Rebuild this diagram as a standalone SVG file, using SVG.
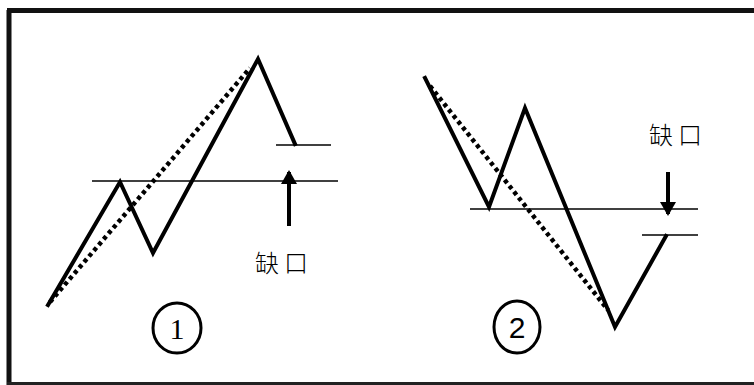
<svg xmlns="http://www.w3.org/2000/svg" width="754" height="385" viewBox="0 0 754 385">
<style>
.zig{fill:none;stroke:#000;stroke-width:4;stroke-linejoin:miter;stroke-linecap:square}
.dot{fill:none;stroke:#000;stroke-width:4.5;stroke-dasharray:4 3.5}
.hl{stroke:#000;stroke-width:1.5}
.arr{stroke:#000;stroke-width:4}
.lbl{font-family:"Noto Sans CJK SC","Noto Sans CJK JP",sans-serif;font-size:24px;font-weight:300;fill:#000;letter-spacing:5px}
.num{font-size:30px;fill:#000;text-anchor:middle}
.circ{fill:none;stroke:#000;stroke-width:3}
</style>
<defs>
<marker id="ah" markerWidth="3.5" markerHeight="5" refX="3" refY="2.5" orient="auto" markerUnits="strokeWidth">
<path d="M0,0.5 L3.5,2.5 L0,4.5 Z" fill="#000"/>
</marker>
</defs>
<rect width="754" height="385" fill="#fff"/>
<g id="frame">
<line x1="9" y1="10" x2="9" y2="385" stroke="#111" stroke-width="5"/>
<line x1="7" y1="10.5" x2="754" y2="10.5" stroke="#111" stroke-width="5"/>
<line x1="7" y1="383.5" x2="754" y2="383.5" stroke="#222" stroke-width="3"/>
</g>
<g id="pattern1">
<polyline class="zig" points="48,305 120,182 153,253 258,59 295,144"/>
<line class="dot" x1="50" y1="302" x2="250" y2="68"/>
<line class="hl" x1="92" y1="181" x2="338" y2="181"/>
<line class="hl" x1="276" y1="145" x2="331" y2="145"/>
</g>
<g id="pattern2">
<polyline class="zig" points="425,78 489,207 525,108 615,327 666,236"/>
<line class="dot" x1="430" y1="86" x2="608" y2="310"/>
<line class="hl" x1="470" y1="209" x2="698" y2="209"/>
<line class="hl" x1="642" y1="235" x2="698" y2="235"/>
</g>
<g id="connectors">
<line class="arr" x1="289" y1="226" x2="289" y2="172" marker-end="url(#ah)"/>
<line class="arr" x1="668" y1="172" x2="668" y2="214" marker-end="url(#ah)"/>
</g>
<g id="label1"><text class="lbl" x="255" y="272">缺口</text></g>
<g id="label2"><text class="lbl" x="649" y="144">缺口</text></g>
<g id="circle1">
<ellipse class="circ" cx="177" cy="328" rx="24" ry="25"/>
<text class="num" x="177" y="339" font-family="Liberation Serif, serif">1</text>
</g>
<g id="circle2">
<ellipse class="circ" cx="517" cy="327" rx="23" ry="26"/>
<text class="num" x="517" y="338" font-family="Liberation Sans, sans-serif" font-size="27">2</text>
</g>
</svg>
